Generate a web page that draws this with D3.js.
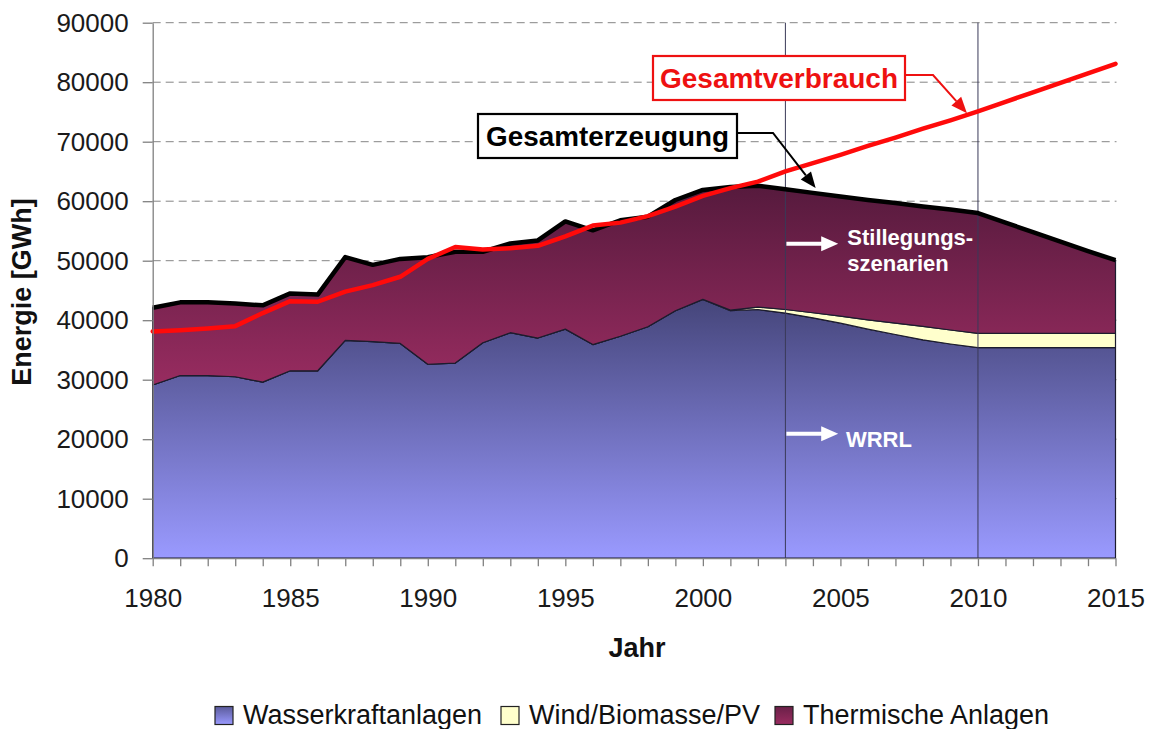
<!DOCTYPE html>
<html><head><meta charset="utf-8">
<script src="https://cdn.jsdelivr.net/npm/d3@7"></script>
<style>
html,body{margin:0;padding:0;background:#fff;}
svg{display:block;font-family:"Liberation Sans",Arial,Helvetica,sans-serif;}
</style></head><body>
<svg id="chart" width="1153" height="729"></svg>
<script>
// ---------------- DATA ----------------
const years = [1980,1981,1982,1983,1984,1985,1986,1987,1988,1989,
               1990,1991,1992,1993,1994,1995,1996,1997,1998,1999,
               2000,2001,2002,2003,2004,2005,2006,2007,2008,2009,
               2010,2011,2012,2013,2014,2015];
// Wasserkraftanlagen (GWh)
const hydro = [29100,30700,30700,30500,29600,31500,31500,36600,36400,36100,
               32600,32800,36200,37900,37000,38500,35900,37300,38900,41600,
               43500,41600,41800,41200,40400,39500,38500,37600,36700,36000,
               35400,35400,35400,35400,35400,35400];
// Wind/Biomasse/PV (GWh)
const wind = [0,0,0,0,0,0,0,0,0,0,
              0,0,0,0,0,0,0,0,0,0,
              0,100,400,600,850,1200,1550,1900,2250,2350,
              2400,2400,2400,2400,2400,2400];
// Thermische Anlagen (GWh)
const thermal = [13000,12300,12300,12300,12900,13000,12800,14000,12900,14200,
                 18000,18700,15300,15000,16400,18100,19200,19500,18500,18600,
                 18400,20700,20400,20200,20150,20100,20150,20200,20150,20250,
                 20200,18600,17000,15400,13800,12300];
// Gesamtverbrauch (GWh)
const consumption = [38100,38300,38600,39000,41200,43200,43100,44800,45900,47300,
                     50300,52300,51900,52100,52500,54100,55900,56400,57500,59100,
                     60900,62200,63300,65000,66400,67800,69300,70700,72200,73600,
                     75100,76700,78300,79900,81500,83100];
const yTicks = [0,10000,20000,30000,40000,50000,60000,70000,80000,90000];
const xLabelYears = [1980,1985,1990,1995,2000,2005,2010,2015];
const markerYears = [2003,2010];
const seriesKeys = ["hydro","wind","thermal"];
const seriesNames = ["Wasserkraftanlagen","Wind/Biomasse/PV","Thermische Anlagen"];

// ---------------- CHART ----------------
const svg = d3.select("#chart");
const x = d3.scaleLinear().domain([1980,2015]).range([152.7,1115.5]);
const y = d3.scaleLinear().domain([0,90000]).range([558.2,22.7]);

const table = years.map((yr,i)=>({year:yr, hydro:hydro[i], wind:wind[i], thermal:thermal[i]}));
const stacked = d3.stack().keys(seriesKeys)(table);
const totalMax = d3.max(stacked[2], d=>d[1]);

const defs = svg.append("defs");
const gH = defs.append("linearGradient").attr("id","gHydro")
  .attr("gradientUnits","userSpaceOnUse").attr("x1",0).attr("x2",0)
  .attr("y1",y(d3.max(hydro))).attr("y2",y(0));
gH.append("stop").attr("offset",0).attr("stop-color","#45457a");
gH.append("stop").attr("offset",1).attr("stop-color","#9a9aff");
const gT = defs.append("linearGradient").attr("id","gThermal")
  .attr("gradientUnits","userSpaceOnUse").attr("x1",0).attr("x2",0)
  .attr("y1",y(totalMax)).attr("y2",y(d3.min(hydro)));
gT.append("stop").attr("offset",0).attr("stop-color","#561a3d");
gT.append("stop").attr("offset",1).attr("stop-color","#982c60");
const gL = defs.append("linearGradient").attr("id","gLegH").attr("x1",0).attr("x2",0).attr("y1",0).attr("y2",1);
gL.append("stop").attr("offset",0).attr("stop-color","#5a5a9a");
gL.append("stop").attr("offset",1).attr("stop-color","#9a9aff");
const gL2 = defs.append("linearGradient").attr("id","gLegT").attr("x1",0).attr("x2",0).attr("y1",0).attr("y2",1);
gL2.append("stop").attr("offset",0).attr("stop-color","#6a2048");
gL2.append("stop").attr("offset",1).attr("stop-color","#9a2c60");

// gridlines
svg.append("g").selectAll("line").data(yTicks.filter(d=>d>0)).join("line")
  .attr("x1",x(1980)).attr("x2",x(2015)+1)
  .attr("y1",d=>y(d)).attr("y2",d=>y(d))
  .attr("stroke","#858585").attr("stroke-width",1).attr("stroke-dasharray","8,5");

// areas
const area = d3.area().x(d=>x(d.data.year)).y0(d=>y(d[0])).y1(d=>y(d[1]));
const fills = ["url(#gHydro)","#ffffcc","url(#gThermal)"];
svg.append("g").selectAll("path").data(stacked).join("path")
  .attr("d",area).attr("fill",(d,i)=>fills[i])
  .attr("stroke","#1c1c2e").attr("stroke-width",1.2).attr("stroke-linejoin","round");

// vertical marker lines
svg.append("g").selectAll("line").data(markerYears).join("line")
  .attr("x1",d=>x(d)).attr("x2",d=>x(d))
  .attr("y1",y(90000)).attr("y2",y(0))
  .attr("stroke","#3a3a58").attr("stroke-width",1);

// Gesamterzeugung line (top of stack)
svg.append("path").datum(stacked[2])
  .attr("d",d3.line().x(d=>x(d.data.year)).y(d=>y(d[1])))
  .attr("fill","none").attr("stroke","#000").attr("stroke-width",4.5)
  .attr("stroke-linejoin","round");

// Gesamtverbrauch line
svg.append("path").datum(years.map((yr,i)=>[yr,consumption[i]]))
  .attr("d",d3.line().x(d=>x(d[0])).y(d=>y(d[1])))
  .attr("fill","none").attr("stroke","#ff0a0a").attr("stroke-width",4.5)
  .attr("stroke-linejoin","round").attr("stroke-linecap","round");

// axes
const yAxis = svg.append("g").attr("transform",`translate(${x(1980)},0)`)
  .call(d3.axisLeft(y).tickValues(yTicks).tickSize(10).tickSizeOuter(0).tickPadding(14).tickFormat(d3.format("d")));
const xAxis = svg.append("g").attr("transform",`translate(0,${y(0)})`)
  .call(d3.axisBottom(x).tickValues(years).tickSize(8).tickSizeOuter(0).tickPadding(22)
        .tickFormat(d=>xLabelYears.includes(d)?String(d):""));
[yAxis,xAxis].forEach(g=>{
  g.select(".domain").attr("stroke","#808080").attr("stroke-width",1.3);
  g.selectAll(".tick line").attr("stroke","#808080").attr("stroke-width",1.3);
  g.selectAll(".tick text").attr("fill","#1a1a1a").style("font-size","26px")
   .style("font-family","'Liberation Sans',Arial,sans-serif");
});

// axis titles
svg.append("text").attr("transform","translate(31,292) rotate(-90)")
  .attr("text-anchor","middle").style("font-size","27px").style("font-weight","bold")
  .attr("fill","#111").text("Energie [GWh]");
svg.append("text").attr("x",637).attr("y",657).attr("text-anchor","middle")
  .style("font-size","27px").style("font-weight","bold").attr("fill","#111").text("Jahr");

// annotation helpers
function arrowHead(g, p0, p1, color, len, half){
  const a = Math.atan2(p1[1]-p0[1], p1[0]-p0[0]);
  const bx = p1[0]-len*Math.cos(a), by = p1[1]-len*Math.sin(a);
  const px = -Math.sin(a)*half, py = Math.cos(a)*half;
  g.append("path").attr("d",`M${p1[0]},${p1[1]}L${bx+px},${by+py}L${bx-px},${by-py}Z`).attr("fill",color);
  return [bx,by];
}
function callout(label, color, box, elbowX, tipData, textLen){
  const g = svg.append("g");
  const tip = [x(tipData[0]), y(tipData[1])];
  const midY = box.y + box.h/2 - 3;
  const elbow = [elbowX, midY];
  const base = arrowHead(g, elbow, tip, color, 16, 6.5);
  g.append("path").attr("d",`M${box.x+box.w},${midY}L${elbow[0]},${elbow[1]}L${base[0]},${base[1]}`)
    .attr("fill","none").attr("stroke",color).attr("stroke-width",2);
  g.append("rect").attr("x",box.x).attr("y",box.y).attr("width",box.w).attr("height",box.h)
    .attr("fill","#fff").attr("stroke",color).attr("stroke-width",2.2);
  g.append("text").attr("x",box.x+box.w/2).attr("y",box.y+box.h-12).attr("text-anchor","middle")
    .attr("fill",color).style("font-size","27px").style("font-weight","bold")
    .attr("textLength",textLen).attr("lengthAdjust","spacingAndGlyphs").text(label);
}
callout("Gesamtverbrauch","#ee1111",{x:653,y:56,w:252,h:44},933,[2009.6,74800],238);
callout("Gesamterzeugung","#000",{x:478,y:114,w:259,h:44},773,[2004.1,62200],243);

// white arrows inside areas
function whiteArrow(x0,x1,yy){
  const g = svg.append("g");
  const base = arrowHead(g,[x0,yy],[x1,yy],"#fff",17,7.5);
  g.append("line").attr("x1",x0).attr("x2",base[0]+1).attr("y1",yy).attr("y2",yy)
    .attr("stroke","#fff").attr("stroke-width",4);
}
whiteArrow(x(2003)+1, x(2004.92), y(52850));
whiteArrow(x(2003)+1, x(2004.92), y(20900));
const wt = svg.append("g").attr("fill","#fff").style("font-size","22px").style("font-weight","bold");
wt.append("text").attr("x",x(2005.25)).attr("y",245).text("Stillegungs-");
wt.append("text").attr("x",x(2005.25)).attr("y",271).text("szenarien");
wt.append("text").attr("x",x(2005.2)).attr("y",446.5).text("WRRL");

// legend
const legX = [215,501,775];
const legFill = ["url(#gLegH)","#ffffcc","url(#gLegT)"];
const leg = svg.append("g");
seriesNames.forEach((n,i)=>{
  leg.append("rect").attr("x",legX[i]).attr("y",706.5).attr("width",18).attr("height",18)
    .attr("fill",legFill[i]).attr("stroke","#222").attr("stroke-width",1.2);
  leg.append("text").attr("x",legX[i]+28).attr("y",723.5).attr("fill","#111")
    .style("font-size","27px").text(n);
});
</script>
</body></html>
